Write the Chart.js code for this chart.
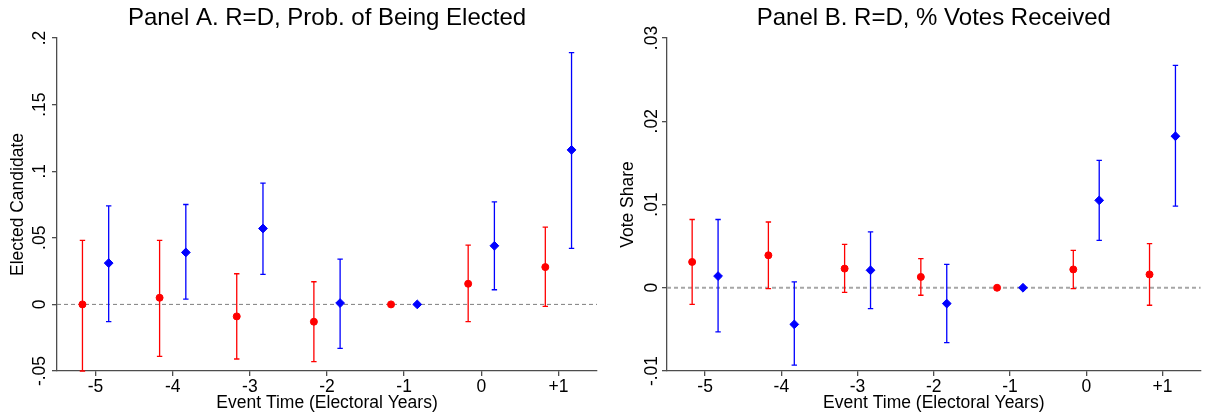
<!DOCTYPE html>
<html>
<head>
<meta charset="utf-8">
<script src="https://cdn.jsdelivr.net/npm/chart.js@4.4.1/dist/chart.umd.min.js"></script>
<style>
html, body { margin: 0; padding: 0; background: #fff; }
#wrap { display: flex; width: 1206px; height: 414px; }
canvas { display: block; }
</style>
</head>
<body>
<div id="wrap">
    <canvas id="panelA" width="603" height="414"></canvas>
    <canvas id="panelB" width="603" height="414"></canvas>
</div>
<script>
// x axis: electoral years, red sits left of the tick, blue right of it
const eventTicks = [-5, -4, -3, -2, -1, 0, 1];
const eventLabels = ["-5", "-4", "-3", "-2", "-1", "0", "+1"];
const pairShift = 0.17;

// Panel A - probability of being elected
const electedTicks = [-0.05, 0, 0.05, 0.1, 0.15, 0.2];
const electedTickLabels = ["-.05", "0", ".05", ".1", ".15", ".2"];
const electedRed = [0, 0.005, -0.009, -0.013, 0, 0.0155, 0.028];
const electedRedLo = [-0.05, -0.039, -0.041, -0.043, 0, -0.013, -0.0015];
const electedRedHi = [0.048, 0.048, 0.023, 0.017, 0, 0.0445, 0.058];
const electedBlue = [0.031, 0.039, 0.057, 0.001, 0, 0.044, 0.116];
const electedBlueLo = [-0.013, 0.004, 0.0225, -0.033, 0, 0.011, 0.042];
const electedBlueHi = [0.074, 0.075, 0.091, 0.034, 0, 0.077, 0.189];

// Panel B - vote share
const shareTicks = [-0.01, 0, 0.01, 0.02, 0.03];
const shareTickLabels = ["-.01", "0", ".01", ".02", ".03"];
const shareRed = [0.0031, 0.0039, 0.0023, 0.0013, 0, 0.0022, 0.0016];
const shareRedLo = [-0.002, -0.0001, -0.00055, -0.0009, 0, -0.0001, -0.0021];
const shareRedHi = [0.0082, 0.0079, 0.0052, 0.0035, 0, 0.0045, 0.0053];
const shareBlue = [0.0014, -0.0044, 0.0021, -0.0019, 0, 0.0105, 0.0182];
const shareBlueLo = [-0.0053, -0.0093, -0.0025, -0.0066, 0, 0.0057, 0.0098];
const shareBlueHi = [0.0082, 0.0007, 0.0067, 0.0028, 0, 0.0153, 0.0267];

const FONT = "'Liberation Sans', Arial, sans-serif";
const AXIS = '#4d4d4d';

const errorBars = {
    id: 'errorBars',
    beforeDatasetsDraw(chart, args, opts) {
        const { ctx, chartArea } = chart;
        const y = chart.scales.y;
        const y0 = y.getPixelForValue(0);

        ctx.save();
        // dashed zero line
        ctx.strokeStyle = opts.zeroColor;
        ctx.lineWidth = opts.zeroWidth;
        ctx.setLineDash(opts.zeroDash);
        ctx.beginPath();
        ctx.moveTo(chartArea.left, y0);
        ctx.lineTo(chartArea.right, y0);
        ctx.stroke();
        ctx.setLineDash([]);

        chart.data.datasets.forEach((ds, i) => {
            const meta = chart.getDatasetMeta(i);
            ctx.strokeStyle = ds.borderColor;
            ctx.lineWidth = 1.3;
            meta.data.forEach((pt, j) => {
                const lo = ds.lo[j], hi = ds.hi[j];
                if (lo === hi) return;
                const yl = y.getPixelForValue(lo);
                const yh = y.getPixelForValue(hi);
                const cap = 2.7;
                ctx.beginPath();
                ctx.moveTo(pt.x, yl);
                ctx.lineTo(pt.x, yh);
                ctx.moveTo(pt.x - cap, yl);
                ctx.lineTo(pt.x + cap, yl);
                ctx.moveTo(pt.x - cap, yh);
                ctx.lineTo(pt.x + cap, yh);
                ctx.stroke();
            });
        });
        ctx.restore();
    }
};

const toPoints = (values, shift) => values.map((v, i) => ({ x: eventTicks[i] + shift, y: v }));

const makePanel = (id, cfg) => {
    const ctx = document.getElementById(id).getContext('2d');
    return new Chart(ctx, {
        type: 'scatter',
        data: {
            datasets: [{
                data: toPoints(cfg.red, -pairShift),
                lo: cfg.redLo,
                hi: cfg.redHi,
                backgroundColor: '#ff0000',
                borderColor: '#ff0000',
                pointStyle: 'circle',
                pointRadius: 3.5,
                borderWidth: 1
            }, {
                data: toPoints(cfg.blue, pairShift),
                lo: cfg.blueLo,
                hi: cfg.blueHi,
                backgroundColor: '#0000ff',
                borderColor: '#0000ff',
                pointStyle: 'rectRot',
                pointRadius: 4.4,
                borderWidth: 1
            }]
        },
        options: {
            responsive: false,
            animation: false,
            layout: { padding: { left: 0, right: cfg.rightPad, top: 0, bottom: 0 } },
            plugins: {
                legend: { display: false },
                tooltip: { enabled: false },
                title: {
                    display: true,
                    text: cfg.title,
                    color: '#000',
                    fullSize: false,
                    font: { family: FONT, size: 24, weight: 'normal' },
                    padding: { top: 4, bottom: 5.2 }
                },
                errorBars: cfg.zero
            },
            scales: {
                x: {
                    type: 'linear',
                    min: -5.5,
                    max: 1.5,
                    afterBuildTicks: (s) => { s.ticks = eventTicks.map(v => ({ value: v })); },
                    afterFit: (s) => { s.height = 43; },
                    border: { display: true, color: AXIS, width: 1.3 },
                    grid: { drawOnChartArea: false, drawTicks: true, tickLength: 5, color: AXIS, lineWidth: 1.3 },
                    ticks: {
                        color: '#000',
                        font: { family: FONT, size: 17.5 },
                        padding: 1,
                        maxRotation: 0,
                        callback: (v) => eventLabels[eventTicks.indexOf(v)]
                    },
                    title: {
                        display: true,
                        text: 'Event Time (Electoral Years)',
                        color: '#000',
                        font: { family: FONT, size: 17.5 },
                        padding: { top: 0, bottom: 0.5 }
                    }
                },
                y: {
                    type: 'linear',
                    min: cfg.yTicks[0],
                    max: cfg.yTicks[cfg.yTicks.length - 1],
                    afterBuildTicks: (s) => { s.ticks = cfg.yTicks.map(v => ({ value: v })); },
                    afterFit: (s) => { s.width = cfg.yWidth; },
                    border: { display: true, color: AXIS, width: 1.3 },
                    grid: { drawOnChartArea: false, drawTicks: true, tickLength: 5, color: AXIS, lineWidth: 1.3 },
                    ticks: {
                        color: '#000',
                        font: { family: FONT, size: 17.5 },
                        minRotation: 90,
                        maxRotation: 90,
                        crossAlign: 'center',
                        padding: cfg.tickPad,
                        callback: (v) => cfg.yLabels[cfg.yTicks.indexOf(v)]
                    },
                    title: {
                        display: true,
                        text: cfg.yTitle,
                        color: '#000',
                        font: { family: FONT, size: 17.5 },
                        padding: { top: cfg.titlePad, bottom: 0 }
                    }
                }
            }
        },
        plugins: [errorBars]
    });
};

makePanel('panelA', {
    title: 'Panel A. R=D, Prob. of Being Elected',
    yTitle: 'Elected Candidate',
    yTicks: electedTicks,
    yLabels: electedTickLabels,
    red: electedRed, redLo: electedRedLo, redHi: electedRedHi,
    blue: electedBlue, blueLo: electedBlueLo, blueHi: electedBlueHi,
    yWidth: 57, tickPad: -3.5, titlePad: 7.5, rightPad: 6,
    zero: { zeroColor: '#7f7f7f', zeroWidth: 1, zeroDash: [4, 3] }
});

makePanel('panelB', {
    title: 'Panel B. R=D, % Votes Received',
    yTitle: 'Vote Share',
    yTicks: shareTicks,
    yLabels: shareTickLabels,
    red: shareRed, redLo: shareRedLo, redHi: shareRedHi,
    blue: shareBlue, blueLo: shareBlueLo, blueHi: shareBlueHi,
    yWidth: 64, tickPad: -5, titlePad: 14.5, rightPad: 0,
    zero: { zeroColor: '#a6a6a6', zeroWidth: 1.8, zeroDash: [4, 3] }
});
</script>
</body>
</html>
